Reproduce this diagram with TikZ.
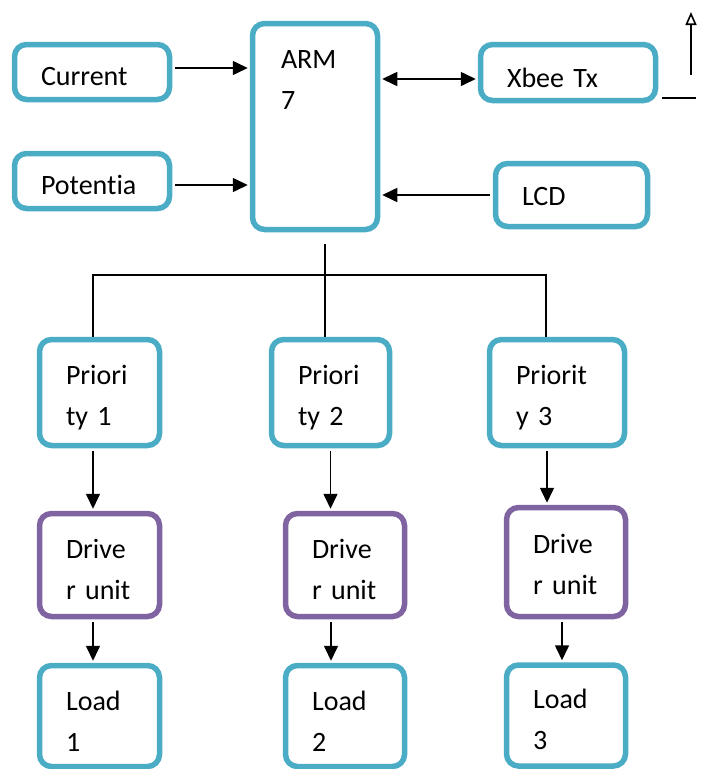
\documentclass[tikz,border=0pt]{standalone}
\usepackage{fontspec}
\setmainfont{Carlito}[Ligatures={TeX,NoCommon}]
\usetikzlibrary{arrows.meta}
\definecolor{boxblue}{HTML}{4BACC6}
\definecolor{boxpurple}{HTML}{8064A2}
\tikzset{
  box/.style={draw=boxblue, line width=5.5pt, rounded corners=12pt, fill=white,
    align=left, inner xsep=26.5pt, font=\fontsize{28}{41}\selectfont},
  drv/.style={box, draw=boxpurple},
  tpos/.style 2 args={text height=#1pt, text depth=#2pt},
  line/.style={line width=1.6pt},
  arr/.style={line, shorten <=2.5pt, shorten >=2pt, -{Triangle[length=15pt,width=14pt]}},
  arrboth/.style={line, shorten <=2pt, shorten >=2pt,
    {Triangle[length=15pt,width=14pt]}-{Triangle[length=15pt,width=14pt]}}
}
\begin{document}
\begin{tikzpicture}[x=1pt, y=-1pt]
  \useasboundingbox (0,0) rectangle (701,769);
  % top row
  \node[box, tpos={26}{0}, text width=102pt, minimum height=55pt] (cur) at (92,72) {Current};
  \node[box, tpos={26}{0}, text width=102pt, minimum height=55pt] (pot) at (92,181) {Potentia};
  \node[box, tpos={20}{137}, inner xsep=28.5pt, text width=68pt, minimum height=206pt]
    (arm) at (315,126.5) {ARM\\7};
  \node[box, tpos={29}{0}, text width=122pt, minimum height=56pt] (xbee) at (568,72.5) {Xbee Tx};
  \node[box, tpos={20}{0}, text width=99pt, minimum height=63pt] (lcd) at (571.5,195) {LCD};
  % priorities
  \node[box, tpos={20}{37}, text width=67pt, minimum height=106pt] (p1) at (99.5,392.5) {Priori\\ty 1};
  \node[box, tpos={20}{37}, text width=65pt, minimum height=106pt] (p2) at (330.5,392.5) {Priori\\ty 2};
  \node[box, tpos={20}{37}, text width=82pt, minimum height=106pt] (p3) at (557,392.5) {Priorit\\y 3};
  % drivers
  \node[drv, tpos={20}{34}, text width=67pt, minimum height=103pt] (d1) at (99.5,565) {Drive\\r unit};
  \node[drv, tpos={20}{34}, text width=66pt, minimum height=103pt] (d2) at (345,565) {Drive\\r unit};
  \node[drv, tpos={20}{38}, text width=66pt, minimum height=109pt] (d3) at (566,562) {Drive\\r unit};
  % loads
  \node[box, tpos={20}{32}, text width=67pt, minimum height=101pt] (l1) at (99.5,716) {Load\\1};
  \node[box, tpos={20}{32}, text width=66pt, minimum height=101pt] (l2) at (345,716) {Load\\2};
  \node[box, tpos={20}{35}, text width=66pt, minimum height=101pt] (l3) at (566,715.5) {Load\\3};

  \draw[arr] ([yshift=4pt]cur.east) -- ([yshift=4pt]cur.east -| arm.west);
  \draw[arr] ([yshift=-4pt]pot.east) -- ([yshift=-4pt]pot.east -| arm.west);
  \draw[arrboth] ([yshift=-6.5pt]xbee.west) -- ([yshift=-6.5pt]xbee.west -| arm.east);
  \draw[arr] (lcd.west) -- (lcd.west -| arm.east);

  % antenna
  \coordinate (antBot) at (691,75);
  \coordinate (antTop) at (691,12);
  \coordinate (gnd) at (696,98);
  \draw[line, -{Triangle[open,length=13pt,width=11pt]}] (antBot) -- (antTop);
  \draw[line] ([shift={(3.5,25.5)}]xbee.east) -- (gnd);

  % bus
  \coordinate (busTop) at (325,244);
  \coordinate (bus) at (325,275);
  \draw[line] (busTop) -- (bus |- p2.north);
  \draw[line] ([xshift=-6.5pt]p1.north) |- (bus) -| ([xshift=-11pt]p3.north);

  \draw[arr] ([xshift=-6.5pt]p1.south) -- ([xshift=-6.5pt]d1.north);
  \draw[arr] (p2.south) -- (p2.south |- d2.north);
  \draw[arr] ([xshift=-10pt]p3.south) -- ([xshift=-10pt]p3.south |- d3.north);
  \draw[arr] ([xshift=-6.5pt]d1.south) -- ([xshift=-6.5pt]l1.north);
  \draw[arr] ([xshift=-14pt]d2.south) -- ([xshift=-14pt]l2.north);
  \draw[arr] ([xshift=-4pt]d3.south) -- ([xshift=-4pt]l3.north);
\end{tikzpicture}
\end{document}
